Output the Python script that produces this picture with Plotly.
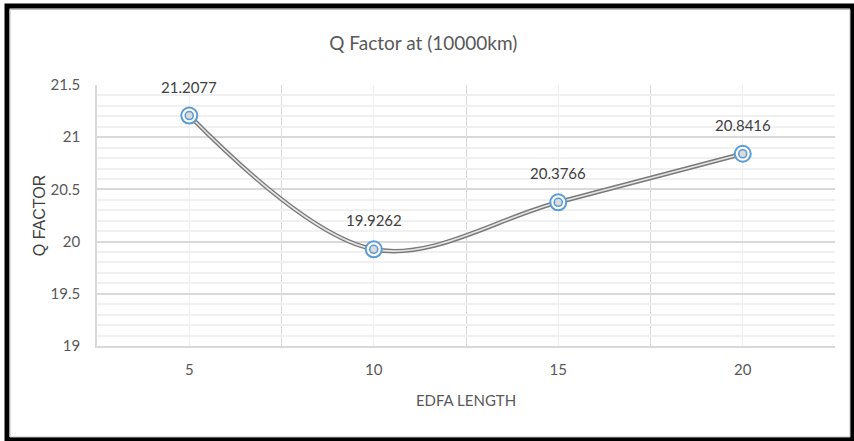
import plotly.graph_objects as go

# EDFA length vs Q factor at 10000 km
edfa_length = [5, 10, 15, 20]
q_factor = [21.2077, 19.9262, 20.3766, 20.8416]
y_ticks = [19, 19.5, 20, 20.5, 21, 21.5]
y_tick_text = ["19", "19.5", "20", "20.5", "21", "21.5"]

W, H = 854, 441
ML, MR, MT, MB = 97, 19, 85, 95

TXT = "#595959"
FONT = "Lato, Liberation Sans, Arial, sans-serif"
BLUE = "#5b9bd5"

fig = go.Figure()

# double (compound) smoothed line: dark outer stroke with light core
fig.add_trace(go.Scatter(
    x=edfa_length, y=q_factor, mode="lines",
    line=dict(color="#7a7a7a", width=4.5, shape="spline", smoothing=1.0),
    hoverinfo="skip", showlegend=False))
fig.add_trace(go.Scatter(
    x=edfa_length, y=q_factor, mode="lines",
    line=dict(color="#e6e6e6", width=1.6, shape="spline", smoothing=1.0),
    hoverinfo="skip", showlegend=False))

# ring markers: outer ring and inner ring
fig.add_trace(go.Scatter(
    x=edfa_length, y=q_factor, mode="markers",
    marker=dict(symbol="circle", size=16, color="rgba(255,255,255,0.9)",
                line=dict(color=BLUE, width=2)),
    showlegend=False))
fig.add_trace(go.Scatter(
    x=edfa_length, y=q_factor, mode="markers",
    marker=dict(symbol="circle", size=8, color="#dcdcdc",
                line=dict(color=BLUE, width=1.6)),
    showlegend=False))

# value labels above each point
for xv, yv in zip(edfa_length, q_factor):
    fig.add_annotation(x=xv, y=yv, text=f"{yv:.4f}", showarrow=False,
                       yshift=29, font=dict(family=FONT, size=15, color="#404040"))

# chart border (thin grey line inside a thick black frame)
def px_x(px):
    return (px - ML) / (W - ML - MR)

def px_y(py):
    return 1 - (py - MT) / (H - MT - MB)

fig.add_shape(type="rect", xref="paper", yref="paper",
              x0=px_x(7), x1=px_x(852.5), y0=px_y(439.5), y1=px_y(6),
              line=dict(color="black", width=5), layer="above")
fig.add_shape(type="rect", xref="paper", yref="paper",
              x0=px_x(10), x1=px_x(850), y0=px_y(437), y1=px_y(9.5),
              line=dict(color="#bfbfbf", width=1), layer="above")

fig.update_layout(
    width=W, height=H,
    margin=dict(l=ML, r=MR, t=MT, b=MB),
    paper_bgcolor="white", plot_bgcolor="white",
    title=dict(text="Q Factor at (10000km)", x=(ML + (W - ML - MR) / 2) / W - 0.05,
               xanchor="center", y=1 - 43 / H, yanchor="middle",
               font=dict(family=FONT, size=19, color=TXT)),
    xaxis=dict(
        range=[2.5, 22.5], tickvals=edfa_length,
        ticktext=[str(v) for v in edfa_length],
        showgrid=True, gridcolor="#efefef", gridwidth=1,
        minor=dict(tick0=2.5, dtick=5, showgrid=True, gridcolor="#d9d9d9", gridwidth=1),
        showline=True, linecolor="#d9d9d9", linewidth=1.5,
        ticks="", ticklabelstandoff=9, zeroline=False,
        tickfont=dict(family=FONT, size=15, color=TXT),
        title=dict(text="EDFA LENGTH", standoff=19,
                   font=dict(family=FONT, size=15, color=TXT)),
    ),
    yaxis=dict(
        range=[19, 21.5], tickvals=y_ticks, ticktext=y_tick_text,
        showgrid=True, gridcolor="#d9d9d9", gridwidth=1.5,
        minor=dict(dtick=0.1, showgrid=True, gridcolor="#f0f0f0", gridwidth=1.5),
        showline=True, linecolor="#d9d9d9", linewidth=1.5,
        ticks="", ticklabelstandoff=12, zeroline=False,
        tickfont=dict(family=FONT, size=15, color=TXT),
        title=dict(text="Q FACTOR", standoff=1,
                   font=dict(family="Liberation Sans, Arial, sans-serif", size=16, color="#404040")),
    ),
)

fig.write_html("out.html")
